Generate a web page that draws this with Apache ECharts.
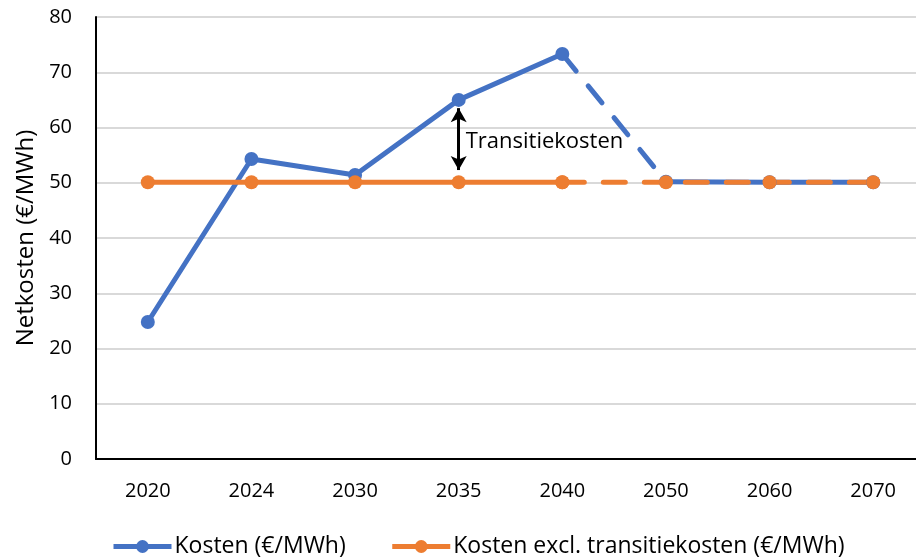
<!DOCTYPE html>
<html><head><meta charset="utf-8">
<script src="https://cdn.jsdelivr.net/npm/echarts@6/dist/echarts.min.js"></script>
<style>html,body{margin:0;padding:0;background:#fff;overflow:hidden;width:916px;height:558px}#c{width:925px;height:558px}</style>
</head><body><div id="c"></div>
<script>
const categories = ['2020','2024','2030','2035','2040','2050','2060','2070'];
const kosten = [24.8, 54.3, 51.4, 65.0, 73.3, 50.2, 50.1, 50.1];
const kostenExcl = [50.1, 50.1, 50.1, 50.1, 50.1, 50.1, 50.1, 50.1];
const yTicks = [0, 10, 20, 30, 40, 50, 60, 70, 80];
const annotation = { category: '2035', from: 63.5, to: 52.3, labelAt: 57.5, text: 'Transitiekosten' };

const BLUE = '#4472C4', ORANGE = '#ED7D31';
const FONT = '"Open Sans"';
function seg(arr, a, b) { return arr.map((v, i) => (i >= a && i <= b) ? v : null); }
const dash = [22, 19];
function lineSeries(name, color, data, dashed, showSym, extra) {
  return Object.assign({
    name, type: 'line', data, connectNulls: false,
    symbol: 'circle', symbolSize: showSym ? 14 : 0, showSymbol: true,
    itemStyle: { color },
    lineStyle: { color, width: 5, type: dashed ? dash : 'solid', cap: dashed ? 'round' : 'butt' },
    emphasis: { disabled: true }, animation: false
  }, extra || {});
}
const chart = echarts.init(document.getElementById('c'), null, { renderer: 'canvas' });
chart.setOption({
  animation: false,
  grid: { left: 96, top: 17, right: 0, height: 442, containLabel: false },
  legend: {
    top: 530, left: 106, itemWidth: 58, itemHeight: 16, itemGap: 44,
    lineStyle: { width: 5 },
    textStyle: { fontFamily: FONT, fontSize: 23, color: '#000', padding: [0, 0, 0, -2] },
    data: ['Kosten (€/MWh)', 'Kosten excl. transitiekosten (€/MWh)']
  },
  xAxis: {
    type: 'category', data: categories, boundaryGap: true,
    axisLine: { lineStyle: { color: '#000', width: 2 } },
    axisTick: { show: false },
    axisLabel: { fontFamily: FONT, fontSize: 20, color: '#000', margin: 22 }
  },
  yAxis: {
    type: 'value', min: yTicks[0], max: yTicks[yTicks.length - 1], interval: 10,
    name: 'Netkosten (€/MWh)', nameLocation: 'middle', nameGap: 51, nameRotate: 90,
    nameTextStyle: { fontFamily: FONT, fontSize: 24, color: '#000' },
    axisLine: { show: true, lineStyle: { color: '#000', width: 2 } },
    axisTick: { show: false },
    axisLabel: { fontFamily: FONT, fontSize: 20, color: '#000', margin: 24 },
    splitLine: { lineStyle: { color: '#d9d9d9', width: 2 } }
  },
  series: [
    lineSeries('Kosten (€/MWh)', BLUE, seg(kosten, 0, 4), false, true, {
      markLine: {
        silent: true, symbol: ['arrow', 'arrow'], symbolSize: [12, 14],
        lineStyle: { color: '#000', width: 3, type: 'solid' },
        label: { show: false },
        data: [[{ coord: [annotation.category, annotation.from] }, { coord: [annotation.category, annotation.to] }]]
      },
      markPoint: {
        silent: true, symbol: 'circle', symbolSize: 0,
        label: { show: true, position: 'right', distance: 7, formatter: annotation.text,
          fontFamily: FONT, fontSize: 22, color: '#000' },
        data: [{ coord: [annotation.category, annotation.labelAt] }]
      }
    }),
    lineSeries('Kosten (€/MWh)', BLUE, seg(kosten, 4, 5), true, false),
    lineSeries('Kosten (€/MWh)', BLUE, seg(kosten, 5, 7), false, true),
    lineSeries('Kosten excl. transitiekosten (€/MWh)', ORANGE, seg(kostenExcl, 0, 4), false, true),
    lineSeries('Kosten excl. transitiekosten (€/MWh)', ORANGE, seg(kostenExcl, 4, 7), true, true)
  ]
});
</script></body></html>
